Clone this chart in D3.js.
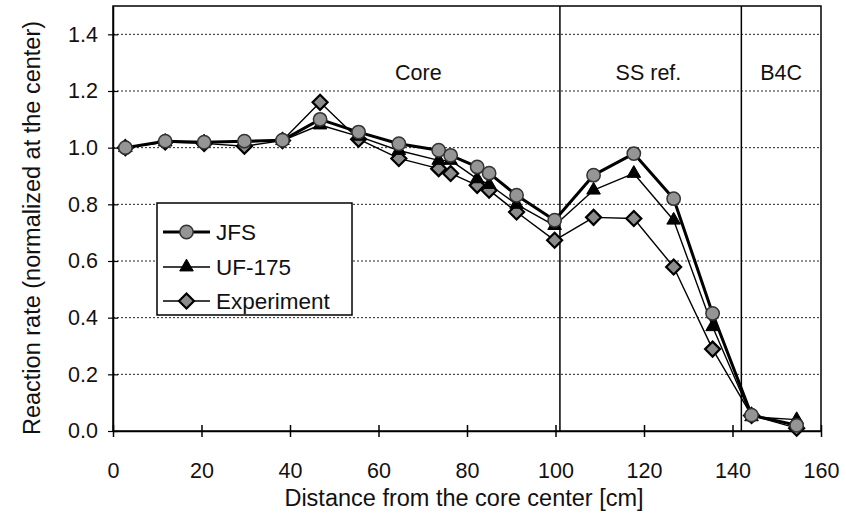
<!DOCTYPE html>
<html>
<head>
<meta charset="utf-8">
<script src="https://cdn.jsdelivr.net/npm/d3@7"></script>
<style>
  html, body { margin: 0; padding: 0; background: #fff; }
  svg text { font-family: "Liberation Sans", Arial, sans-serif; fill: #111; }
</style>
</head>
<body>
<svg id="chart" width="846" height="520"></svg>
<script>
// Radial distance of each measurement position [cm]
const distance = [2.8, 11.8, 20.6, 29.7, 38.3, 46.8, 55.5, 64.6, 73.6, 76.3, 82.3, 85.0, 91.2, 99.8, 108.6, 117.7, 126.7, 135.5, 144.3, 154.5];

// Reaction rates normalized at the core center
const jfs = [1.00, 1.023, 1.019, 1.023, 1.026, 1.10, 1.055, 1.014, 0.991, 0.973, 0.932, 0.91, 0.832, 0.744, 0.903, 0.979, 0.82, 0.415, 0.056, 0.02];
const uf175 = [1.00, 1.02, 1.02, 1.02, 1.025, 1.08, 1.04, 0.99, 0.955, 0.955, 0.89, 0.87, 0.80, 0.725, 0.85, 0.909, 0.744, 0.368, 0.05, 0.04];
const experiment = [1.00, 1.02, 1.015, 1.005, 1.025, 1.16, 1.03, 0.962, 0.926, 0.909, 0.867, 0.85, 0.773, 0.673, 0.754, 0.750, 0.579, 0.289, 0.055, 0.01];

const xTicks = [0, 20, 40, 60, 80, 100, 120, 140, 160];
const yTicks = [0.0, 0.2, 0.4, 0.6, 0.8, 1.0, 1.2, 1.4];

// Region boundaries [cm] and region names with their label positions [cm]
const regionBounds = [101, 142];
const regionNames = ["Core", "SS ref.", "B4C"];
const regionLabelX = [69, 121, 151];

const svg = d3.select("#chart");
const plotL = 113, plotR = 821, plotT = 6, plotB = 431;

const x = d3.scaleLinear().domain([0, 160]).range([plotL, plotR]);
const y = d3.scaleLinear().domain([0, 1.5]).range([plotB, plotT]);

// Dotted horizontal grid
svg.append("g")
  .selectAll("line")
  .data(yTicks.filter(d => d > 0))
  .join("line")
  .attr("x1", plotL).attr("x2", plotR)
  .attr("y1", d => y(d)).attr("y2", d => y(d))
  .attr("stroke", "#222")
  .attr("stroke-width", 1)
  .attr("stroke-dasharray", "2,2");

// Plot frame
svg.append("rect")
  .attr("x", plotL).attr("y", plotT)
  .attr("width", plotR - plotL).attr("height", plotB - plotT)
  .attr("fill", "none").attr("stroke", "#000").attr("stroke-width", 1.5);

// Region boundaries
svg.append("g")
  .selectAll("line")
  .data(regionBounds)
  .join("line")
  .attr("x1", d => x(d)).attr("x2", d => x(d))
  .attr("y1", plotT).attr("y2", plotB)
  .attr("stroke", "#000").attr("stroke-width", 1.5);

// Region labels
svg.append("g")
  .selectAll("text")
  .data(regionNames)
  .join("text")
  .attr("x", (d, i) => x(regionLabelX[i]))
  .attr("y", 80)
  .attr("text-anchor", "middle")
  .attr("font-size", 21.5)
  .text(d => d);

// Axes
const xAxis = d3.axisBottom(x).tickValues(xTicks).tickFormat(d3.format("d"))
  .tickSizeInner(6).tickSizeOuter(0).tickPadding(30);
const gx = svg.append("g").attr("transform", `translate(0,${plotB})`).call(xAxis);
gx.select(".domain").attr("stroke-width", 1.5);
gx.selectAll(".tick line").attr("y1", -6).attr("stroke-width", 1.5);
gx.selectAll(".tick text").attr("font-size", 21.5).attr("font-family", "Liberation Sans, Arial, sans-serif").attr("dy", "0").attr("y", 47);

const yAxis = d3.axisLeft(y).tickValues(yTicks).tickFormat(d3.format(".1f"))
  .tickSizeInner(5).tickSizeOuter(0).tickPadding(12);
const gy = svg.append("g").attr("transform", `translate(${plotL},0)`).call(yAxis);
gy.select(".domain").attr("stroke-width", 1.5);
gy.selectAll(".tick line").attr("x2", 5).attr("x1", -5).attr("stroke-width", 1.2);
gy.selectAll(".tick text").attr("font-size", 21.5).attr("font-family", "Liberation Sans, Arial, sans-serif").attr("x", -15);

// Axis titles
svg.append("text")
  .attr("x", 464)
  .attr("y", 506)
  .attr("text-anchor", "middle")
  .attr("font-size", 23.5)
  .text("Distance from the core center [cm]");

svg.append("text")
  .attr("transform", `translate(40,228) rotate(-90)`)
  .attr("text-anchor", "middle")
  .attr("font-size", 23.5)
  .text("Reaction rate (normalized at the center)");

// Marker shapes
const circleSym = d3.symbol().type(d3.symbolCircle).size(140);
const triSym = d3.symbol().type(d3.symbolTriangle).size(80);
function diamondPath(cx, cy, r) {
  return `M${cx},${cy - r}L${cx + r},${cy}L${cx},${cy + r}L${cx - r},${cy}Z`;
}

const series = [
  { name: "Experiment", values: experiment, width: 1.4, marker: "diamond" },
  { name: "UF-175", values: uf175, width: 1.4, marker: "triangle" },
  { name: "JFS", values: jfs, width: 3, marker: "circle" }
];

const line = d3.line().x(d => x(d[0])).y(d => y(d[1]));

function drawMarker(g, type, cx, cy) {
  if (type === "circle") {
    g.append("path").attr("d", circleSym()).attr("transform", `translate(${cx},${cy})`)
      .attr("fill", "#959595").attr("stroke", "#333").attr("stroke-width", 1.5);
  } else if (type === "triangle") {
    g.append("path").attr("d", triSym()).attr("transform", `translate(${cx},${cy})`)
      .attr("fill", "#000").attr("stroke", "#000").attr("stroke-width", 1);
  } else {
    g.append("path").attr("d", diamondPath(cx, cy, 7.5))
      .attr("fill", "#8c8c8c").attr("stroke", "#000").attr("stroke-width", 2.2);
  }
}

series.forEach(s => {
  const pts = distance.map((d, i) => [d, s.values[i]]);
  const g = svg.append("g").attr("class", "series");
  g.append("path").datum(pts).attr("d", line)
    .attr("fill", "none").attr("stroke", "#000").attr("stroke-width", s.width)
    .attr("stroke-linejoin", "round");
  pts.forEach(p => drawMarker(g, s.marker, x(p[0]), y(p[1])));
});

// Legend
const legend = svg.append("g");
legend.append("rect")
  .attr("x", 157).attr("y", 203).attr("width", 195).attr("height", 112)
  .attr("fill", "#fff").attr("stroke", "#000").attr("stroke-width", 1.5);
const legendItems = [series[2], series[1], series[0]];
const legendY = [232, 267, 301];
legendItems.forEach((s, i) => {
  const ly = legendY[i];
  legend.append("line").attr("x1", 163).attr("x2", 210).attr("y1", ly).attr("y2", ly)
    .attr("stroke", "#000").attr("stroke-width", s.width);
  drawMarker(legend, s.marker, 186.5, ly);
  legend.append("text").attr("x", 216).attr("y", ly + 8)
    .attr("font-size", 22.5).text(s.name);
});
</script>
</body>
</html>
